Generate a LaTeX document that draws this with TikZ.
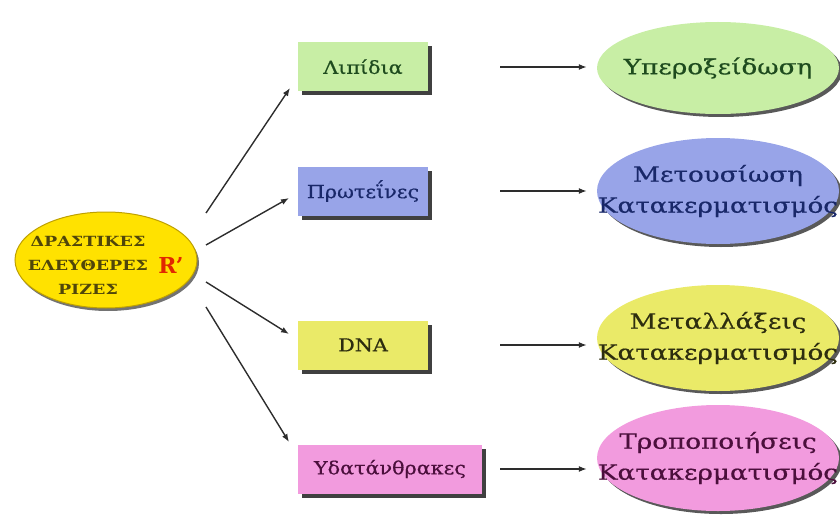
\documentclass[tikz,border=0pt]{standalone}
\usepackage{fontspec}
\setmainfont{DejaVu Serif}
\newfontfamily\gfont[FakeStretch=1.15,FakeBold=0.6]{DejaVu Serif}
\newfontfamily\efont[FakeStretch=1.25,FakeBold=0.6]{DejaVu Serif}
\newfontfamily\sfont[FakeStretch=1.25]{DejaVu Serif}
\usetikzlibrary{shadows,arrows.meta,calc,shapes.geometric}
\definecolor{gfill}{RGB}{200,238,165}
\definecolor{gtext}{RGB}{30,75,30}
\definecolor{bfill}{RGB}{152,164,232}
\definecolor{btext}{RGB}{25,40,105}
\definecolor{yfill}{RGB}{234,234,104}
\definecolor{ytext}{RGB}{45,45,15}
\definecolor{pfill}{RGB}{242,155,222}
\definecolor{ptext}{RGB}{75,15,60}
\definecolor{sfill}{RGB}{255,226,0}
\definecolor{sline}{RGB}{190,160,0}
\definecolor{stext}{RGB}{80,70,10}
\definecolor{rcol}{RGB}{225,40,0}
\definecolor{arrcol}{RGB}{45,45,45}
\begin{document}
\begin{tikzpicture}[x=1pt,y=-1pt,
  boxn/.style={rectangle, minimum width=130, minimum height=49, inner sep=0,
    font=\gfont\fontsize{18}{22}\selectfont,
    drop shadow={shadow xshift=4pt, shadow yshift=-4pt, fill=black!75, opacity=1}},
  ell/.style={ellipse, minimum width=242, minimum height=106, inner sep=0,
    drop shadow={shadow xshift=3pt, shadow yshift=-3pt, fill=black!65, opacity=1}},
  elltext/.style={align=center, inner sep=0, font=\efont\fontsize{21}{31}\selectfont},
  arr/.style={draw=arrcol, line width=1.4pt, -{Latex[length=8pt,width=6pt]}}
]
\useasboundingbox (0,0) rectangle (840,524);
% source ellipse
\node[ellipse, minimum width=182, minimum height=96, inner sep=0, fill=sfill, draw=sline, line width=1pt,
  drop shadow={shadow xshift=2pt, shadow yshift=-3pt, fill=black!55, opacity=1}] (src) at (106,260) {};
\node[align=center, text=stext, font=\sfont\bfseries\fontsize{14}{24}\selectfont] (srct) at (88,265)
  {ΔΡΑΣΤΙΚΕΣ\\ΕΛΕΥΘΕΡΕΣ\\ΡΙΖΕΣ};
\node[text=rcol, font=\fontspec{DejaVu Serif}\bfseries\fontsize{22}{24}\selectfont] (rr) at (171,265) {R’};
% boxes
\node[boxn, fill=gfill, text=gtext] (lip) at (363,67) {Λιπίδια};
\node[boxn, fill=bfill, text=btext] (pro) at (363,191) {Πρωτεΐνες};
\node[boxn, fill=yfill, text=ytext] (dna) at (363,345) {DNA};
\node[boxn, fill=pfill, text=ptext, minimum width=184] (ydt) at (390,469) {Υδατάνθρακες};
% result ellipses
\node[ell, fill=gfill, minimum height=92] (e1) at (718,68) {};
\node[elltext, text=gtext] (e1t) at (e1) {Υπεροξείδωση};
\node[ell, fill=bfill] (e2) at (718,191) {};
\node[elltext, text=btext] (e2t) at (e2) {Μετουσίωση\\Κατακερματισμός};
\node[ell, fill=yfill] (e3) at (718,338) {};
\node[elltext, text=ytext] (e3t) at (e3) {Μεταλλάξεις\\Κατακερματισμός};
\node[ell, fill=pfill] (e4) at (718,458) {};
\node[elltext, text=ptext] (e4t) at (e4) {Τροποποιήσεις\\Κατακερματισμός};
% diagonal arrows
\coordinate (a1) at (206,213); \coordinate (b1) at (290,88);
\coordinate (a2) at (206,245); \coordinate (b2) at (289,198);
\coordinate (a3) at (206,282); \coordinate (b3) at (289,334);
\coordinate (a4) at (206,307); \coordinate (b4) at (289,442);
\draw[arr] (a1) -- (b1);
\draw[arr] (a2) -- (b2);
\draw[arr] (a3) -- (b3);
\draw[arr] (a4) -- (b4);
% horizontal arrows
\draw[arr, shorten <=72pt, shorten >=10pt] (lip.east) -- (lip.east -| e1.west);
\draw[arr, shorten <=72pt, shorten >=10pt] (pro.east) -- (pro.east -| e2.west);
\draw[arr, shorten <=72pt, shorten >=10pt] (dna.east) -- (dna.east -| e3.west);
\draw[arr, shorten <=18pt, shorten >=10pt] (ydt.east) -- (ydt.east -| e4.west);
\end{tikzpicture}
\end{document}
